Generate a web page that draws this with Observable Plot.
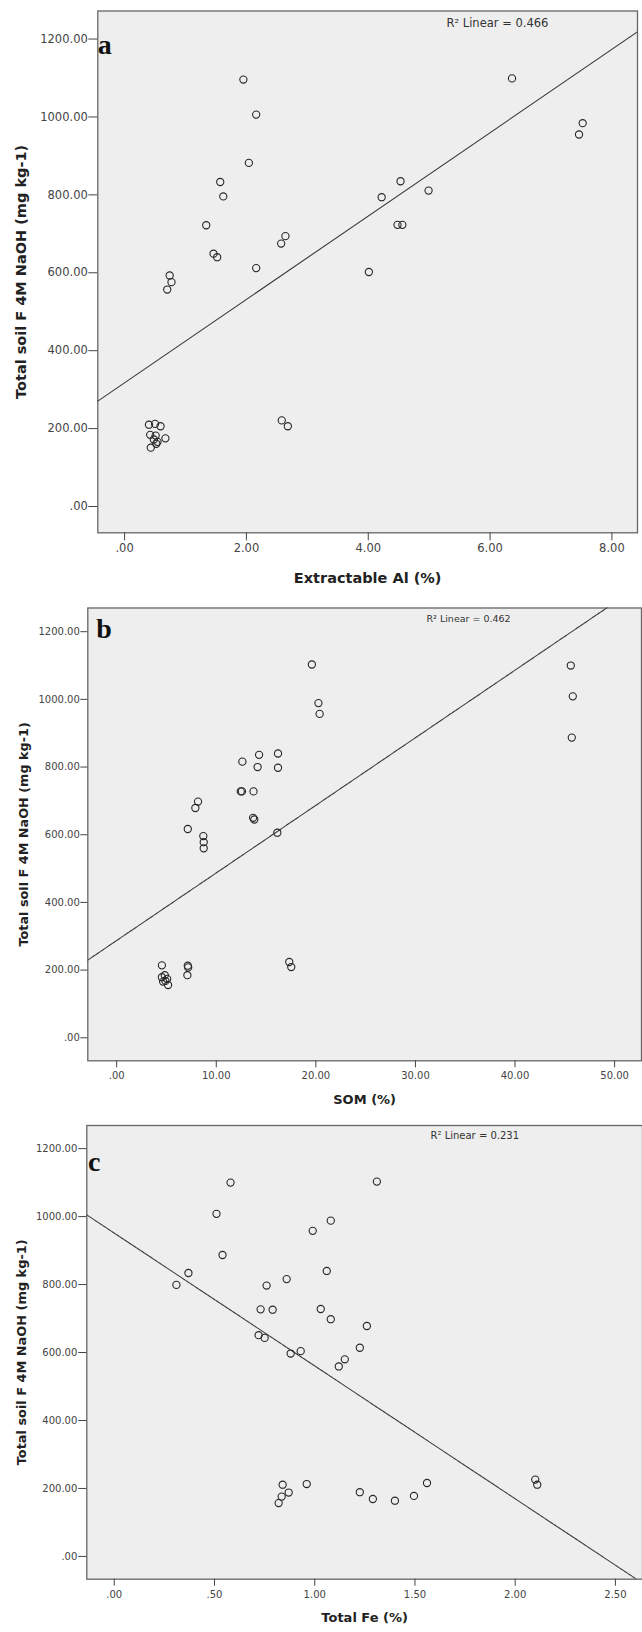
<!DOCTYPE html>
<html>
<head>
<meta charset="utf-8">
<script src="https://cdn.jsdelivr.net/npm/d3@7"></script>
<script src="https://cdn.jsdelivr.net/npm/@observablehq/plot@0.6"></script>
<style>
  html, body { margin: 0; padding: 0; background: #fff; }
  #chart { width: 642px; }
  #chart svg { display: block; }
</style>
</head>
<body>
<div id="chart"></div>
<script>
// ---------- Data ----------
// Panel a: Extractable Al (%) vs Total soil F
const alX = [1.95, 2.16, 2.04, 1.57, 1.62, 1.34, 1.46, 1.52, 0.74, 0.77, 0.70, 2.16, 2.57, 2.64, 2.58, 2.68,
             4.01, 4.22, 4.53, 4.48, 4.56, 4.99, 6.36, 7.46, 7.52,
             0.40, 0.50, 0.59, 0.42, 0.51, 0.67, 0.52, 0.54, 0.43, 0.48];
const alY = [1096, 1006, 882, 833, 796, 722, 649, 640, 593, 576, 557, 612, 675, 694, 221, 206,
             602, 794, 835, 723, 723, 811, 1099, 955, 984,
             210, 212, 206, 184, 182, 175, 161, 166, 151, 172];

// Panel b: SOM (%) vs Total soil F
const somX = [19.6, 20.26, 20.38, 45.6, 45.8, 45.7, 12.62, 14.3, 14.15, 16.2, 16.2, 12.46, 12.58, 13.74,
              13.7, 13.82, 16.13, 8.17, 7.9, 7.14, 8.7, 8.74, 8.74, 17.33, 17.53,
              7.14, 7.18, 7.1, 4.54, 4.54, 4.83, 5.07, 4.66, 4.9, 5.16];
const somY = [1103, 989, 957, 1100, 1009, 887, 816, 836, 800, 840, 798, 728, 728, 728,
              650, 645, 606, 698, 679, 617, 596, 578, 560, 224, 209,
              213, 208, 185, 214, 179, 185, 174, 166, 168, 156];

// Panel c: Total Fe (%) vs Total soil F
const feX = [0.58, 1.31, 0.51, 0.54, 1.08, 0.99, 0.37, 0.31, 0.86, 0.76, 1.06, 0.73, 0.79, 1.03, 1.08,
             1.26, 1.225, 0.72, 0.75, 0.88, 0.93, 1.15, 1.12, 2.10, 2.11,
             0.84, 0.96, 1.56, 0.87, 1.225, 1.495, 1.29, 1.40, 0.82, 0.835];
const feY = [1100, 1103, 1008, 887, 988, 958, 834, 799, 816, 797, 840, 727, 726, 728, 698,
             678, 614, 651, 643, 597, 604, 580, 559, 226, 211,
             211, 213, 216, 188, 189, 178, 169, 164, 157, 176];

// Fit lines (intercept, slope)
const fitA = [317.6, 107.0];
const fitB = [287.5, 19.97];
const fitC = [951.4, -390.9];

// Tick values
const yTickValues = [0, 200, 400, 600, 800, 1000, 1200];
const alTicks = [0, 2, 4, 6, 8];
const somTicks = [0, 10, 20, 30, 40, 50];
const feTicks = [0, 0.5, 1, 1.5, 2, 2.5];

// Texts
const yTitle = "Total soil F 4M NaOH (mg kg-1)";
const panelLetters = ["a", "b", "c"];
const xTitles = ["Extractable Al (%)", "SOM (%)", "Total Fe (%)"];
const r2Labels = ["R\u00B2 Linear = 0.466", "R\u00B2 Linear = 0.462", "R\u00B2 Linear = 0.231"];

// ---------- Drawing ----------
const fmt = v => v.toFixed(2).replace(/^0\./, ".");
const sans = "DejaVu Sans, Liberation Sans, Arial, sans-serif";

function panel(o) {
  const pts = o.xs.map((x, i) => ({x, y: o.ys[i]}));
  const fitPts = o.xDomain.map(x => ({x, y: o.fit[0] + o.fit[1] * x}));
  return Plot.plot({
    width: 642,
    height: o.height,
    marginLeft: o.m[3], marginRight: o.m[1], marginTop: o.m[0], marginBottom: o.m[2],
    style: {background: "#fff", fontFamily: sans, overflow: "visible"},
    x: {domain: o.xDomain},
    y: {domain: o.yDomain},
    marks: [
      Plot.frame({fill: "#eeeeee", stroke: "#666", strokeWidth: 1.3}),
      Plot.line(fitPts, {x: "x", y: "y", stroke: "#3a3a3a", strokeWidth: 1.1, clip: true, strokeDasharray: o.dash}),
      Plot.dot(pts, {x: "x", y: "y", r: 3.6, stroke: "#262626", strokeWidth: 1.1, fill: "none"}),
      Plot.axisY({ticks: yTickValues, tickFormat: fmt, tickSize: o.yt[0], tickPadding: o.yt[1],
                  fontSize: o.tickFont, color: "#444", label: null}),
      Plot.axisX({ticks: o.xTicks, tickFormat: fmt, tickSize: o.xt[0], tickPadding: o.xt[1],
                  fontSize: o.tickFont, color: "#444", label: null}),
      Plot.text([o.letter], {frameAnchor: "top-left", dx: o.letterPos[0], dy: o.letterPos[1],
                  textAnchor: "start", lineAnchor: "bottom", fontFamily: "Liberation Serif, Times New Roman, serif",
                  fontWeight: "bold", fontSize: 28, fill: "#111"}),
      Plot.text([o.r2], {frameAnchor: "top-left", dx: o.r2Pos[0], dy: o.r2Pos[1],
                  textAnchor: "start", lineAnchor: "bottom", fontSize: o.r2Font, fill: "#333"}),
      Plot.text([o.xTitle], {frameAnchor: "bottom", dy: o.xTitleDy, lineAnchor: "middle",
                  fontWeight: "bold", fontSize: o.titleFont, fill: "#222"}),
      Plot.text([yTitle], {frameAnchor: "left", dx: o.yTitleDx, rotate: -90, lineAnchor: "middle",
                  textAnchor: "middle", fontWeight: "bold", fontSize: o.yTitleFont, fill: "#222"})
    ]
  });
}

const chart = document.getElementById("chart");

chart.append(panel({
  xs: alX, ys: alY, fit: fitA, xTicks: alTicks,
  xDomain: [-0.44, 8.42], yDomain: [-67.5, 1272],
  height: 595, m: [10.5, 5, 62.7, 97.3],
  yt: [9, 1], xt: [8, 3.5], tickFont: 11.5,
  letter: panelLetters[0], letterPos: [0, 42.5],
  r2: r2Labels[0], r2Pos: [348.7, 16.2], r2Font: 11.5,
  xTitle: xTitles[0], xTitleDy: 45.7, titleFont: 14.5,
  yTitleDx: -76.8, yTitleFont: 14.5, dash: null
}));

chart.append(panel({
  xs: somX, ys: somY, fit: fitB, xTicks: somTicks,
  xDomain: [-2.9, 52.7], yDomain: [-68, 1270],
  height: 520, m: [12.5, 1, 54.7, 87.3],
  yt: [7, 1], xt: [7, 4], tickFont: 10,
  letter: panelLetters[1], letterPos: [8.5, 29.8],
  r2: r2Labels[1], r2Pos: [338.7, 14], r2Font: 9.5,
  xTitle: xTitles[1], xTitleDy: 38.7, titleFont: 13,
  yTitleDx: -63.8, yTitleFont: 12.8, dash: "4,1"
}));

chart.append(panel({
  xs: feX, ys: feY, fit: fitC, xTicks: feTicks,
  xDomain: [-0.137, 2.635], yDomain: [-67, 1268],
  height: 517, m: [10, 0, 53.3, 86.3],
  yt: [8, 1.5], xt: [7, 4.7], tickFont: 10,
  letter: panelLetters[2], letterPos: [1.2, 45],
  r2: r2Labels[2], r2Pos: [343.7, 13.5], r2Font: 10,
  xTitle: xTitles[2], xTitleDy: 38.3, titleFont: 13,
  yTitleDx: -65.3, yTitleFont: 12.9, dash: "4,1"
}));
</script>
</body>
</html>
